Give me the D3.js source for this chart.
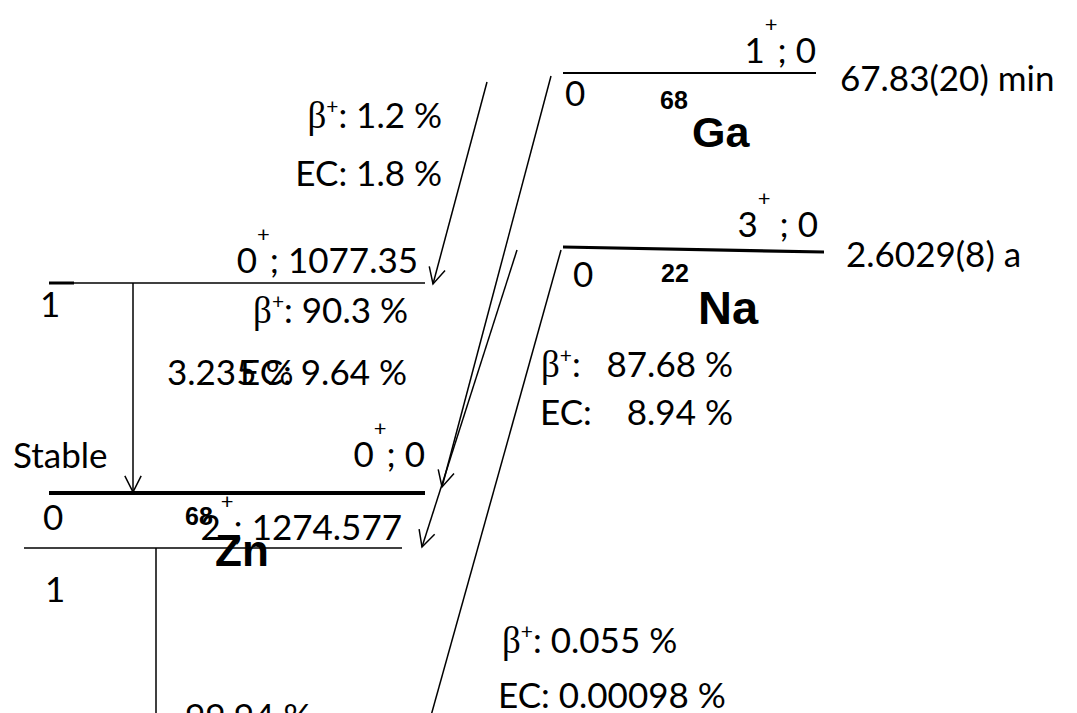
<!DOCTYPE html>
<html>
<head>
<meta charset="utf-8">
<script src="https://cdn.jsdelivr.net/npm/d3@7"></script>
<style>
  body { margin: 0; background: #fff; }
</style>
</head>
<body>
<svg id="scheme" width="1077" height="713"></svg>
<script>
/*global d3*/

// nuclides
const massNumbers = ["68", "22", "68"];
const elements = ["Ga", "Na", "Zn"];
const halfLives = ["67.83(20) min", "2.6029(8) a", "Stable"];

// levels (Ga g.s., Na g.s., Zn 1077, Zn g.s., 2+ 1274)
const levelSpins = ["1", "3", "0", "0", "2"];
const levelEnergies = ["0", "0", "1077.35", "0", "1274.577"];
const levelIndex = ["0", "0", "1", "0", "1"];

// branchings
const betaBranches = ["1.2 %", "90.3 %", "87.68 %", "0.055 %"];
const ecBranches = ["1.8 %", "9.64 %", "8.94 %", "0.00098 %"];
const gammaBranches = ["3.235 %", "99.94 %"];

const svg = d3.select("#scheme");
const SANS = "Lato, 'Open Sans', sans-serif";
const SERIF = "'Liberation Serif', 'DejaVu Serif', serif";
const BOLD = "'Liberation Sans', Arial, sans-serif";
const FS = 35;

// ---- layout (pixels) ----
const levelGeom = [
  { x1: 563, y1: 73,  x2: 816, y2: 73,  w: 1.8, lx: 816, ly: 63,  ix: 565, iy: 106, gap: "" },
  { x1: 563, y1: 247, x2: 824, y2: 252, w: 3.2, lx: 818, ly: 237, ix: 573, iy: 287, gap: " " },
  { x1: 49,  y1: 283, x2: 425, y2: 283, w: 1.6, lx: 418, ly: 273, ix: 40,  iy: 317, gap: "" },
  { x1: 49,  y1: 493, x2: 425, y2: 493, w: 4.2, lx: 425, ly: 467, ix: 43,  iy: 530, gap: "" },
  { x1: 24,  y1: 548, x2: 402, y2: 548, w: 1.5, lx: 402, ly: 540, ix: 45,  iy: 602, gap: "" }
];

const nuclideGeom = [
  { mx: 660, my: 109, ms: 25, sx: 692, sy: 147, ss: 43 },
  { mx: 661, my: 282, ms: 25, sx: 698, sy: 324, ss: 47 },
  { mx: 185, my: 525, ms: 25, sx: 215, sy: 566, ss: 44 }
];
const halfLifeGeom = [
  { x: 840, y: 91 },
  { x: 846, y: 267 },
  { x: 13,  y: 468 }
];

// decay arrows: start -> tip
const arrows = [
  { x1: 487, y1: 82,  x2: 433, y2: 284, head: true },   // Ga -> 1077
  { x1: 551, y1: 76,  x2: 442, y2: 487, head: true },   // Ga -> g.s.
  { x1: 517, y1: 250, x2: 422, y2: 547, head: true },   // Na -> 1274
  { x1: 561, y1: 250, x2: 427, y2: 730, head: false },  // Na -> g.s. (off page)
  { x1: 133, y1: 283, x2: 133, y2: 492, head: true },   // gamma 1077
  { x1: 156, y1: 548, x2: 156, y2: 730, head: false }   // gamma 1274
];

// branch labels: [beta pos, ec pos]
const branchGeom = [
  { anchor: "end",   bx: 442, by: 128, ex: 442, ey: 186 },
  { anchor: "end",   bx: 408, by: 323, ex: 407, ey: 385 },
  { anchor: "split", bx: 541, by: 377, ex: 540, ey: 425, vx: 733 },
  { anchor: "start", bx: 502, by: 653, ex: 498, ey: 708 }
];
const gammaGeom = [
  { x: 167, y: 385 },
  { x: 185, y: 729 }
];

// ---- helpers ----
function label(x, y, anchor, parts) {
  const t = svg.append("text")
    .attr("x", x).attr("y", y)
    .attr("text-anchor", anchor)
    .attr("fill", "#000");
  parts.forEach(function(p) {
    t.append("tspan")
      .attr("font-family", p.family || SANS)
      .attr("font-size", p.size || FS)
      .attr("font-weight", p.weight || "normal")
      .attr("dy", p.dy || 0)
      .text(p.t);
  });
  return t;
}

function betaParts(value, pad) {
  return [
    { t: "\u03b2", family: SERIF, size: 37 },
    { t: "+", size: 21, dy: -14 },
    { t: ":" + (pad === undefined ? " " : pad) + value, dy: 14 }
  ];
}

const line = d3.line();

// ---- levels ----
svg.selectAll("line.level")
  .data(levelGeom)
  .enter().append("line")
    .attr("class", "level")
    .attr("x1", d => d.x1).attr("y1", d => d.y1)
    .attr("x2", d => d.x2).attr("y2", d => d.y2)
    .attr("stroke", "#000")
    .attr("stroke-width", d => d.w);

// small thick stub on the 1077 level
svg.append("line")
  .attr("x1", 49).attr("y1", 283).attr("x2", 74).attr("y2", 283)
  .attr("stroke", "#000").attr("stroke-width", 3);

levelGeom.forEach(function(g, i) {
  label(g.lx, g.ly, "end", [
    { t: levelSpins[i] },
    { t: "+", size: 22, dy: -31 },
    { t: g.gap + "; " + levelEnergies[i], dy: 31 }
  ]);
  label(g.ix, g.iy, "start", [{ t: levelIndex[i] }]);
});

// ---- arrows ----
const headLen = 18, headAng = 27 * Math.PI / 180;
arrows.forEach(function(a) {
  svg.append("path")
    .attr("d", line([[a.x1, a.y1], [a.x2, a.y2]]))
    .attr("stroke", "#000").attr("stroke-width", 1.5).attr("fill", "none");
  if (a.head) {
    const ang = Math.atan2(a.y1 - a.y2, a.x1 - a.x2);
    const p1 = [a.x2 + headLen * Math.cos(ang + headAng), a.y2 + headLen * Math.sin(ang + headAng)];
    const p2 = [a.x2 + headLen * Math.cos(ang - headAng), a.y2 + headLen * Math.sin(ang - headAng)];
    svg.append("path")
      .attr("d", line([p1, [a.x2, a.y2], p2]))
      .attr("stroke", "#000").attr("stroke-width", 1.5).attr("fill", "none");
  }
});

// ---- branch labels ----
branchGeom.forEach(function(g, i) {
  if (g.anchor === "split") {
    label(g.bx, g.by, "start", betaParts("", ""));
    label(g.vx, g.by, "end", [{ t: betaBranches[i] }]);
    label(g.ex, g.ey, "start", [{ t: "EC:" }]);
    label(g.vx, g.ey, "end", [{ t: ecBranches[i] }]);
  } else {
    label(g.bx, g.by, g.anchor, betaParts(betaBranches[i]));
    label(g.ex, g.ey, g.anchor, [{ t: "EC: " + ecBranches[i] }]);
  }
});

gammaGeom.forEach(function(g, i) {
  label(g.x, g.y, "start", [{ t: gammaBranches[i] }]);
});

// ---- nuclide names and half-lives ----
nuclideGeom.forEach(function(g, i) {
  label(g.mx, g.my, "start", [{ t: massNumbers[i], family: BOLD, weight: "bold", size: g.ms }]);
  label(g.sx, g.sy, "start", [{ t: elements[i], family: BOLD, weight: "bold", size: g.ss }]);
});

halfLifeGeom.forEach(function(g, i) {
  label(g.x, g.y, "start", [{ t: halfLives[i] }]);
});
</script>
</body>
</html>
